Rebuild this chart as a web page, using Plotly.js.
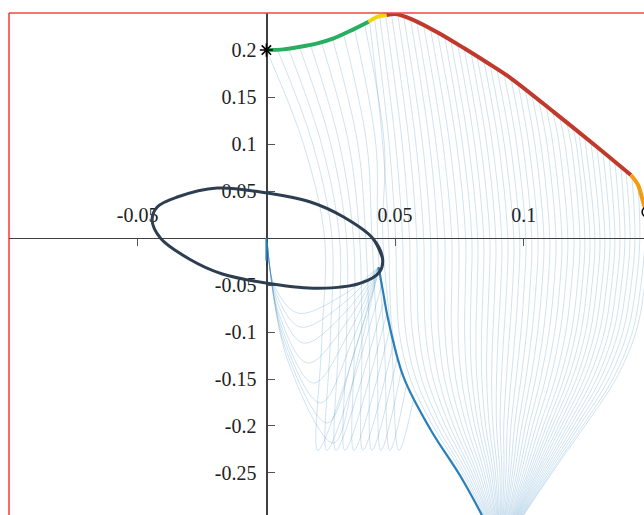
<!DOCTYPE html>
<html><head><meta charset="utf-8">
<script src="https://cdn.plot.ly/plotly-3.0.1.min.js"></script>
<style>html,body{margin:0;padding:0;background:#fff;overflow:hidden}#chart{width:644px;height:515px;}</style>
</head><body><div id="chart"></div>
<script>
// ---- axis ticks ----
const xTickVals = [-0.05, 0.05, 0.1];
const xTickText = ['-0.05', '0.05', '0.1'];
const yTickVals = [-0.25, -0.2, -0.15, -0.1, -0.05, 0.05, 0.1, 0.15, 0.2];
const yTickText = ['-0.25', '-0.2', '-0.15', '-0.1', '-0.05', '0.05', '0.1', '0.15', '0.2'];
const xRange = [-0.1, 0.1467];
const yRange = [-0.2947, 0.2394];

// ---- top boundary curve (coloured pieces) ----
const greenX = [0, 0.0066, 0.0132, 0.0198, 0.0261, 0.0327, 0.0397];
const greenY = [0.2, 0.2007, 0.2035, 0.2071, 0.2124, 0.2205, 0.2301];
const yellowX = [0.0397, 0.0428, 0.0467];
const yellowY = [0.2301, 0.2351, 0.2372];
const redX = [0.0467, 0.0502, 0.0572, 0.0669, 0.0767, 0.0860, 0.0949, 0.1117, 0.1280, 0.1416];
const redY = [0.2372, 0.2383, 0.2319, 0.2181, 0.2021, 0.1862, 0.1702, 0.1340, 0.0979, 0.0670];
const orangeX = [0.1416, 0.1444, 0.1467, 0.1479];
const orangeY = [0.0670, 0.0564, 0.0351, 0.0277];

// ---- markers ----
const startPt = {x: 0, y: 0.2};
const endPt = {x: 0.1479, y: 0.0277};

// ---- dark ellipse ----
const ellX = [0.0451, 0.0412, 0.0300, 0.0171, -0.0023, -0.0191, -0.0346, -0.0424, -0.0444, -0.0412, -0.0300, -0.0171, 0.0023, 0.0202, 0.0366, 0.0440];
const ellY = [-0.0213, 0.0000, 0.0223, 0.0383, 0.0489, 0.0532, 0.0436, 0.0330, 0.0191, 0.0000, -0.0223, -0.0383, -0.0489, -0.0535, -0.0480, -0.0360];

// ---- thick blue envelope ----
const envX = [0.0436, 0.0455, 0.0471, 0.0533, 0.0638, 0.0755, 0.0833, 0.0850];
const envY = [-0.031, -0.060, -0.084, -0.148, -0.204, -0.254, -0.2926, -0.302];
const axisSegX = [0, 0];
const axisSegY = [0, -0.024];

// ---- light trajectories starting on the yellow/red/orange part ----
// x read at fixed heights: y = 0.1, 0, -0.05, -0.1, -0.15, -0.2, -0.25, -0.32 (null = starts below that height)
const rsx = [0.0401, 0.0420, 0.0440, 0.0463, 0.0486, 0.0510, 0.0533, 0.0560, 0.0584, 0.0611, 0.0638, 0.0665, 0.0693, 0.0716, 0.0743, 0.0767, 0.0794, 0.0817, 0.0844, 0.0868, 0.0895, 0.0922, 0.0949, 0.0977, 0.1004, 0.1031, 0.1058, 0.1086, 0.1113, 0.1140, 0.1167, 0.1191, 0.1214, 0.1237, 0.1261, 0.1284, 0.1307, 0.1331, 0.1354, 0.1377, 0.1397, 0.1420, 0.1444, 0.1467, 0.1479];
const rsy = [0.2302, 0.2335, 0.2356, 0.2371, 0.2380, 0.2381, 0.2365, 0.2330, 0.2301, 0.2260, 0.2218, 0.2177, 0.2137, 0.2104, 0.2065, 0.2032, 0.1985, 0.1946, 0.1899, 0.1858, 0.1799, 0.1762, 0.1713, 0.1650, 0.1588, 0.1526, 0.1464, 0.1401, 0.1339, 0.1278, 0.1218, 0.1166, 0.1115, 0.1063, 0.1012, 0.0970, 0.0917, 0.0864, 0.0812, 0.0758, 0.0714, 0.0655, 0.0564, 0.0351, 0.0277];
const rxP10 = [0.0452, 0.0477, 0.0502, 0.0528, 0.0555, 0.0581, 0.0607, 0.0634, 0.0659, 0.0686, 0.0712, 0.0739, 0.0762, 0.0785, 0.0809, 0.0832, 0.0856, 0.0878, 0.0902, 0.0924, 0.0948, 0.0972, 0.0996, 0.1019, 0.1043, 0.1066, 0.1090, 0.1113, 0.1137, 0.1160, 0.1184, 0.1204, null, null, null, null, null, null, null, null, null, null, null, null, null];
const rx0 = [0.0475, 0.0502, 0.0529, 0.0556, 0.0584, 0.0611, 0.0638, 0.0665, 0.0693, 0.0720, 0.0747, 0.0774, 0.0798, 0.0821, 0.0844, 0.0868, 0.0891, 0.0914, 0.0938, 0.0961, 0.0984, 0.1008, 0.1031, 0.1055, 0.1078, 0.1101, 0.1125, 0.1148, 0.1171, 0.1195, 0.1218, 0.1237, 0.1257, 0.1276, 0.1296, 0.1315, 0.1335, 0.1354, 0.1374, 0.1393, 0.1413, 0.1432, 0.1451, 0.1471, 0.1486];
const rxM05 = [0.0479, 0.0506, 0.0532, 0.0559, 0.0586, 0.0613, 0.0639, 0.0666, 0.0693, 0.0720, 0.0747, 0.0773, 0.0796, 0.0819, 0.0842, 0.0865, 0.0888, 0.0911, 0.0934, 0.0957, 0.0979, 0.1002, 0.1025, 0.1048, 0.1071, 0.1094, 0.1117, 0.1140, 0.1162, 0.1185, 0.1208, 0.1227, 0.1246, 0.1265, 0.1284, 0.1303, 0.1322, 0.1341, 0.1360, 0.1379, 0.1398, 0.1417, 0.1436, 0.1455, 0.1470];
const rxM10 = [0.0490, 0.0516, 0.0541, 0.0567, 0.0592, 0.0618, 0.0643, 0.0669, 0.0694, 0.0719, 0.0745, 0.0770, 0.0792, 0.0814, 0.0836, 0.0858, 0.0880, 0.0901, 0.0923, 0.0945, 0.0967, 0.0989, 0.1011, 0.1032, 0.1054, 0.1076, 0.1098, 0.1120, 0.1141, 0.1163, 0.1185, 0.1203, 0.1222, 0.1240, 0.1258, 0.1276, 0.1294, 0.1313, 0.1331, 0.1349, 0.1367, 0.1385, 0.1403, 0.1422, 0.1436];
const rxM15 = [0.0537, 0.0559, 0.0581, 0.0603, 0.0625, 0.0648, 0.0670, 0.0692, 0.0714, 0.0736, 0.0758, 0.0780, 0.0799, 0.0818, 0.0837, 0.0856, 0.0875, 0.0894, 0.0913, 0.0932, 0.0951, 0.0970, 0.0989, 0.1008, 0.1027, 0.1046, 0.1065, 0.1084, 0.1103, 0.1122, 0.1140, 0.1156, 0.1172, 0.1188, 0.1204, 0.1219, 0.1235, 0.1251, 0.1267, 0.1283, 0.1298, 0.1314, 0.1330, 0.1346, 0.1358];
const rxM20 = [0.0630, 0.0647, 0.0663, 0.0679, 0.0696, 0.0712, 0.0728, 0.0745, 0.0761, 0.0778, 0.0794, 0.0810, 0.0824, 0.0838, 0.0852, 0.0866, 0.0880, 0.0894, 0.0908, 0.0922, 0.0936, 0.0950, 0.0964, 0.0978, 0.0992, 0.1006, 0.1020, 0.1034, 0.1048, 0.1062, 0.1076, 0.1088, 0.1100, 0.1111, 0.1123, 0.1135, 0.1146, 0.1158, 0.1170, 0.1181, 0.1193, 0.1205, 0.1216, 0.1228, 0.1237];
const rxM25 = [0.0751, 0.0761, 0.0770, 0.0780, 0.0790, 0.0799, 0.0809, 0.0818, 0.0828, 0.0838, 0.0847, 0.0857, 0.0865, 0.0874, 0.0882, 0.0890, 0.0898, 0.0907, 0.0915, 0.0923, 0.0931, 0.0940, 0.0948, 0.0956, 0.0964, 0.0973, 0.0981, 0.0989, 0.0998, 0.1006, 0.1014, 0.1021, 0.1028, 0.1035, 0.1042, 0.1049, 0.1055, 0.1062, 0.1069, 0.1076, 0.1083, 0.1090, 0.1097, 0.1104, 0.1109];
const rxM32 = [0.0887, 0.0888, 0.0890, 0.0891, 0.0893, 0.0894, 0.0895, 0.0897, 0.0898, 0.0899, 0.0901, 0.0902, 0.0903, 0.0905, 0.0906, 0.0907, 0.0908, 0.0909, 0.0910, 0.0912, 0.0913, 0.0914, 0.0915, 0.0916, 0.0917, 0.0919, 0.0920, 0.0921, 0.0922, 0.0923, 0.0924, 0.0925, 0.0926, 0.0927, 0.0928, 0.0929, 0.0930, 0.0931, 0.0932, 0.0933, 0.0934, 0.0935, 0.0936, 0.0937, 0.0938];
const rLevels = [0.1, 0, -0.05, -0.1, -0.15, -0.2, -0.25, -0.32];

// ---- light trajectories starting on the green part ----
const gsx = [0.0, 0.0043, 0.0086, 0.0128, 0.0171, 0.0214, 0.0257, 0.0300, 0.0342, 0.0381];
const gsy = [0.2000, 0.2003, 0.2012, 0.2033, 0.2055, 0.2083, 0.2115, 0.2170, 0.2225, 0.2280];
const gx1 = [0.0144, 0.0180, 0.0214, 0.0250, 0.0284, 0.0320, 0.0355, 0.0390, 0.0425, 0.0458];
const gx0 = [0.0226, 0.0255, 0.0284, 0.0311, 0.0338, 0.0362, 0.0386, 0.0410, 0.0432, 0.0452];
const gmx = [0.0215, 0.0248, 0.0280, 0.0311, 0.0342, 0.0371, 0.0400, 0.0430, 0.0458, 0.0486];
const gvx = [0.0200, 0.0235, 0.0270, 0.0305, 0.0340, 0.0375, 0.0410, 0.0445, 0.0480, 0.0515];
const gex = [0.0438, 0.0448, 0.0458, 0.0468, 0.0481, 0.0496, 0.0510, 0.0525, 0.0545, 0.0573];
const gey = [-0.035, -0.050, -0.065, -0.080, -0.095, -0.110, -0.125, -0.140, -0.155, -0.170];
const gLevels = [0.1, 0, -0.11, -0.226];

// ---- light U-shaped trajectories below the origin ----
const uStart = [0.0003, -0.004];
const uEnd = [0.0436, -0.031];
const ulx = [0.0030, 0.0036, 0.0042, 0.0048, 0.0056, 0.0064, 0.0072, 0.0080];
const uly = [-0.0500, -0.0580, -0.0680, -0.0800, -0.0920, -0.1040, -0.1160, -0.1280];
const ubx = [0.0121, 0.0132, 0.0144, 0.0160, 0.0183, 0.0210, 0.0237, 0.0261];
const uby = [-0.0798, -0.0947, -0.1117, -0.1330, -0.1543, -0.1755, -0.1968, -0.2180];
const urx = [0.0290, 0.0298, 0.0306, 0.0314, 0.0324, 0.0334, 0.0344, 0.0354];
const ury = [-0.0620, -0.0700, -0.0790, -0.0890, -0.0990, -0.1090, -0.1190, -0.1290];

// ================= build =================
const traces = [];
const light = {color: 'rgba(41,128,185,0.22)', width: 1, shape: 'spline', smoothing: 1};
function add(x, y, line) {
  traces.push({type: 'scatter', mode: 'lines', x: x, y: y, line: line, hoverinfo: 'skip', showlegend: false});
}
const rCols = [rxP10, rx0, rxM05, rxM10, rxM15, rxM20, rxM25, rxM32];
for (let i = 0; i < rsx.length; i++) {
  const xs = [rsx[i]], ys = [rsy[i]];
  rCols.forEach((col, k) => { if (col[i] !== null && rLevels[k] < rsy[i]) { xs.push(col[i]); ys.push(rLevels[k]); } });
  add(xs, ys, light);
}
for (let i = 0; i < gsx.length; i++) {
  add([gsx[i], gx1[i], gx0[i], gmx[i], gvx[i], gex[i]], [gsy[i]].concat(gLevels, [gey[i]]), light);
}
for (let i = 0; i < ubx.length; i++) {
  add([uStart[0], ulx[i], ubx[i], urx[i], uEnd[0]], [uStart[1], uly[i], uby[i], ury[i], uEnd[1]], light);
}
const blue = {color: '#2a7fba', width: 2.2, shape: 'spline', smoothing: 1};
add(envX, envY, blue);
add(axisSegX, axisSegY, {color: '#2a7fba', width: 2});
add(ellX.concat(ellX.slice(0, 3)), ellY.concat(ellY.slice(0, 3)), {color: '#2c3e50', width: 3, shape: 'spline', smoothing: 1});
const thick = (c) => ({color: c, width: 4, shape: 'spline', smoothing: 0.8});
add(greenX, greenY, thick('#27ae60'));
add(yellowX, yellowY, thick('#f1d30f'));
add(redX, redY, thick('#c0392b'));
add(orangeX, orangeY, thick('#f39c12'));
traces.push({type: 'scatter', mode: 'markers', x: [startPt.x], y: [startPt.y], hoverinfo: 'skip', showlegend: false,
  marker: {symbol: 'asterisk-open', size: 11, color: 'black', line: {color: 'black', width: 1.6}}});
traces.push({type: 'scatter', mode: 'markers', x: [endPt.x], y: [endPt.y], hoverinfo: 'skip', showlegend: false,
  marker: {symbol: 'circle-open', size: 10, color: 'black', line: {color: 'black', width: 1.5}}});

const yZeroFrac = (0 - yRange[0]) / (yRange[1] - yRange[0]);
const xZeroFrac = (0 - xRange[0]) / (xRange[1] - xRange[0]);
const tickFont = {family: 'Liberation Serif, DejaVu Serif, serif', size: 20, color: '#222'};

const layout = {
  width: 644, height: 515,
  margin: {l: 9, r: 0, t: 13, b: 0, pad: 0},
  paper_bgcolor: 'white', plot_bgcolor: 'white',
  showlegend: false,
  xaxis: {range: xRange, anchor: 'free', position: yZeroFrac, side: 'top',
    showline: true, linecolor: '#404040', linewidth: 1.2,
    ticks: 'inside', ticklen: 7, tickwidth: 1, tickcolor: '#555',
    tickmode: 'array', tickvals: xTickVals, ticktext: xTickText, tickfont: tickFont,
    ticklabelstandoff: 8, showgrid: false, zeroline: false, layer: 'below traces', fixedrange: true},
  yaxis: {range: yRange, anchor: 'free', position: xZeroFrac, side: 'left',
    showline: true, linecolor: '#404040', linewidth: 1.2,
    ticks: 'inside', ticklen: 7, tickwidth: 1, tickcolor: '#555',
    tickmode: 'array', tickvals: yTickVals, ticktext: yTickText, tickfont: tickFont,
    ticklabelstandoff: 6, showgrid: false, zeroline: false, layer: 'below traces', fixedrange: true},
  shapes: [
    {type: 'line', xref: 'paper', yref: 'paper', x0: 0, x1: 1, y0: 1, y1: 1, line: {color: 'rgba(240,70,70,0.75)', width: 2}},
    {type: 'line', xref: 'paper', yref: 'paper', x0: 0, x1: 0, y0: 0, y1: 1, line: {color: 'red', width: 1.2}}
  ]
};
Plotly.newPlot('chart', traces, layout, {displayModeBar: false, staticPlot: true});
</script>
</body></html>
